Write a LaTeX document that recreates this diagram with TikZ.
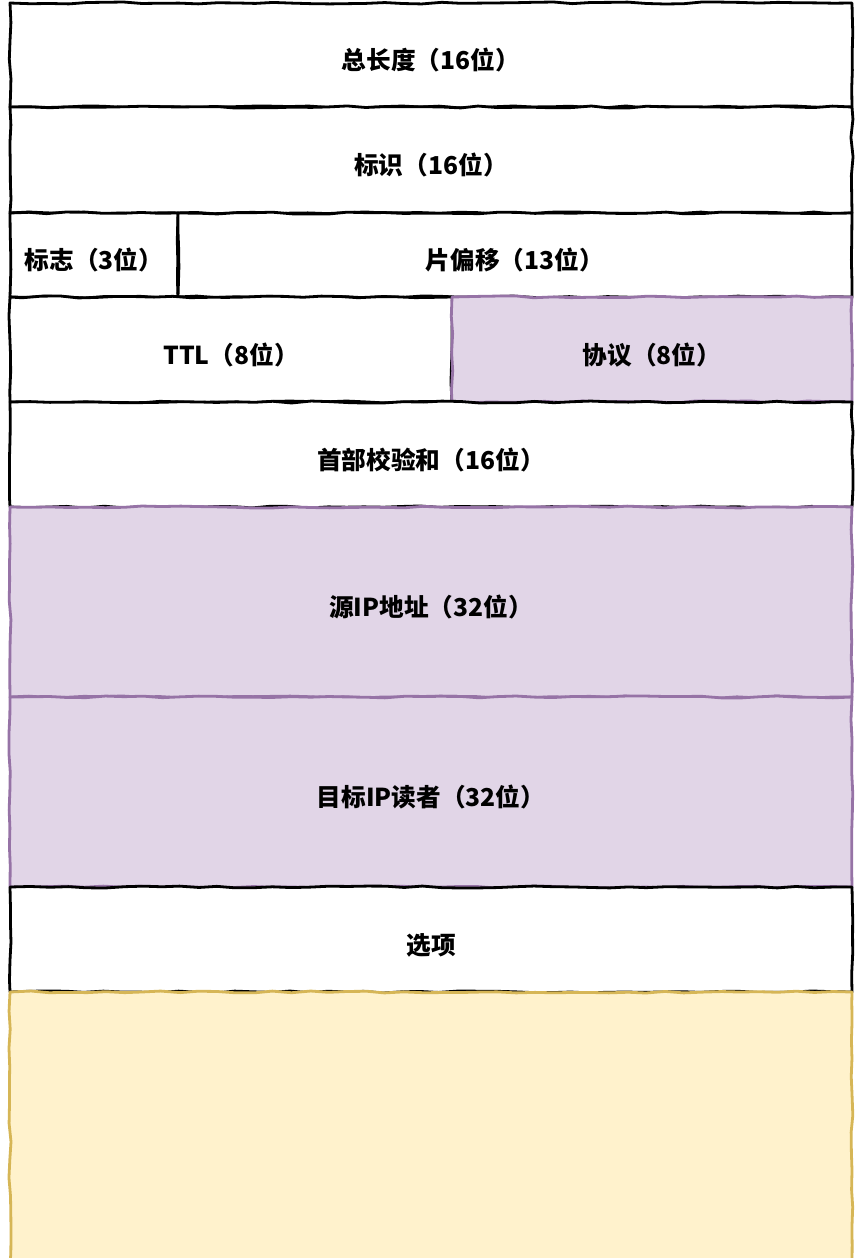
\documentclass[tikz,border=0pt]{standalone}
\usepackage{fontspec}
\newfontfamily\cjk{Noto Sans CJK SC}
\usetikzlibrary{decorations.pathmorphing}
\definecolor{purpfill}{HTML}{E1D5E7}
\definecolor{purpline}{HTML}{9673A6}
\definecolor{yelfill}{HTML}{FFF2CC}
\definecolor{yelline}{HTML}{D6B656}
\tikzset{
  field/.style={draw=black, fill=white, line width=2.1pt, line join=round,
    rectangle, inner sep=0pt, outer sep=0pt,
    decorate, decoration={random steps, segment length=14pt, amplitude=0.8pt},
    font=\cjk\bfseries\fontsize{18.5}{22}\selectfont,
    text height=24pt, text depth=2pt},
  purp/.style={field, fill=purpfill, draw=purpline},
  yel/.style={field, fill=yelfill, draw=yelline}
}
\begin{document}
\begin{tikzpicture}[x=0.75pt, y=-0.75pt]
\pgfmathsetseed{7}
\useasboundingbox (0,0) rectangle (863,1258);
\node[field, minimum width=842*0.75pt, minimum height=104*0.75pt] (len) at (431,55) {总长度（16位）};
\node[field, minimum width=842*0.75pt, minimum height=106*0.75pt] (ident) at (431,160) {标识（16位）};
\node[field, minimum width=168*0.75pt, minimum height=84*0.75pt] (flag) at (94,255) {标志（3位）};
\node[field, minimum width=674*0.75pt, minimum height=84*0.75pt] (frag) at (515,255) {片偏移（13位）};
\node[field, minimum width=442*0.75pt, minimum height=105*0.75pt] (ttl) at (231,349.5) {TTL（8位）};
\node[purp, minimum width=400*0.75pt, minimum height=105*0.75pt] (proto) at (652,349.5) {协议（8位）};
\node[field, minimum width=842*0.75pt, minimum height=105*0.75pt] (cksum) at (431,454.5) {首部校验和（16位）};
\node[purp, minimum width=842*0.75pt, minimum height=190*0.75pt] (src) at (431,602) {源IP地址（32位）};
\node[purp, minimum width=842*0.75pt, minimum height=190*0.75pt] (dst) at (431,792) {目标IP读者（32位）};
\node[field, minimum width=842*0.75pt, minimum height=105*0.75pt] (opt) at (431,939.5) {选项};
\node[yel, minimum width=842*0.75pt, minimum height=272*0.75pt] (data) at (431,1128) {};
\end{tikzpicture}
\end{document}
